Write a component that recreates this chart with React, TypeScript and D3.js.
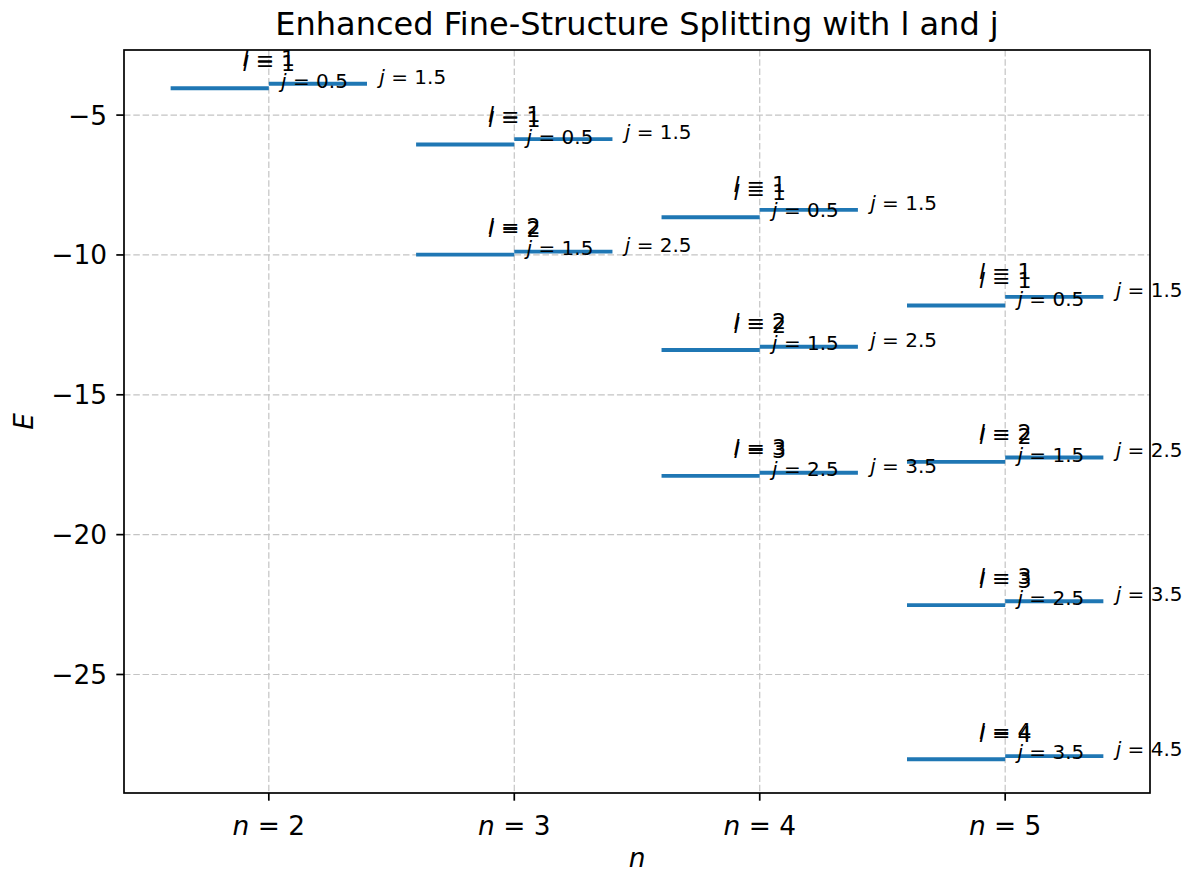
import React from 'react';
import * as d3 from 'd3';

// Data
const levelN = [2, 3, 3, 4, 4, 4, 5, 5, 5, 5];
const levelL = [1, 1, 2, 1, 2, 3, 1, 2, 3, 4];
const energyJMinus = [-4.04, -6.05, -9.99, -8.65, -13.4, -17.9, -11.81, -17.4, -22.52, -28.03]; // j = l - 1/2
const energyJPlus = [-3.88, -5.86, -9.88, -8.39, -13.28, -17.79, -11.5, -17.24, -22.38, -27.92]; // j = l + 1/2
const xTicks = [2, 3, 4, 5];
const xTickLabels = ['2', '3', '4', '5'];
const yTicks = [-5, -10, -15, -20, -25];
const yTickLabels = ['\u22125', '\u221210', '\u221215', '\u221220', '\u221225'];
const titleText = 'Enhanced Fine-Structure Splitting with l and j';

const W = 1190;
const H = 872;
const plot = { left: 124, right: 1150, top: 50, bottom: 793 };
const FONT = "'DejaVu Sans', sans-serif";
const BLUE = '#1f77b4';

export default function App() {
  const xMin = d3.min(levelN)! - 0.4;
  const xMax = d3.max(levelN)! + 0.4;
  const xPad = (xMax - xMin) * 0.05;
  const x = d3.scaleLinear().domain([xMin - xPad, xMax + xPad]).range([plot.left, plot.right]);

  const allE = [...energyJMinus, ...energyJPlus];
  const eMin = d3.min(allE)!;
  const eMax = d3.max(allE)!;
  const ePad = (eMax - eMin) * 0.05;
  const y = d3.scaleLinear().domain([eMin - ePad, eMax + ePad]).range([plot.bottom, plot.top]);

  const gridColor = '#c4c4c4';
  const dash = '6.5,2.8';

  const levels = levelN.map((n, i) => ({
    n,
    l: levelL[i],
    e1: energyJMinus[i],
    e2: energyJPlus[i],
  }));

  return (
    <svg width={W} height={H} style={{ position: 'absolute', left: 0, top: 0, background: '#fff' }} fontFamily={FONT}>
      <rect x={0} y={0} width={W} height={H} fill="#fff" />
      {/* grid */}
      <g>
        {xTicks.map((t) => (
          <line key={'gx' + t} x1={x(t)} x2={x(t)} y1={plot.top} y2={plot.bottom} stroke={gridColor} strokeWidth={1.2} strokeDasharray={dash} />
        ))}
        {yTicks.map((t) => (
          <line key={'gy' + t} x1={plot.left} x2={plot.right} y1={y(t)} y2={y(t)} stroke={gridColor} strokeWidth={1.2} strokeDasharray={dash} />
        ))}
      </g>
      {/* level lines */}
      <g>
        {levels.map((d, i) => (
          <g key={'lv' + i}>
            <line x1={x(d.n - 0.4)} x2={x(d.n)} y1={y(d.e1)} y2={y(d.e1)} stroke={BLUE} strokeWidth={3.9} />
            <line x1={x(d.n)} x2={x(d.n + 0.4)} y1={y(d.e2)} y2={y(d.e2)} stroke={BLUE} strokeWidth={3.9} />
          </g>
        ))}
      </g>
      {/* labels */}
      <g fill="#000">
        {levels.map((d, i) => (
          <g key={'lb' + i}>
            {[d.e1, d.e2].map((e, k) => (
              <text key={'l' + k} x={x(d.n)} y={y(e) - 17.5} fontSize={22} textAnchor="middle">
                <tspan fontStyle="italic">l</tspan>
                <tspan>{' = ' + d.l}</tspan>
              </text>
            ))}
            <text x={x(d.n + 0.05)} y={y(d.e1)} fontSize={20}>
              <tspan fontStyle="italic">j</tspan>
              <tspan>{' = ' + (d.l - 0.5).toFixed(1)}</tspan>
            </text>
            <text x={x(d.n + 0.45)} y={y(d.e2)} fontSize={20}>
              <tspan fontStyle="italic">j</tspan>
              <tspan>{' = ' + (d.l + 0.5).toFixed(1)}</tspan>
            </text>
          </g>
        ))}
      </g>
      {/* spines */}
      <rect x={plot.left} y={plot.top} width={plot.right - plot.left} height={plot.bottom - plot.top} fill="none" stroke="#000" strokeWidth={1.7} />
      {/* x ticks */}
      <g>
        {xTicks.map((t, i) => (
          <g key={'xt' + t}>
            <line x1={x(t)} x2={x(t)} y1={plot.bottom} y2={plot.bottom + 7.7} stroke="#000" strokeWidth={1.7} />
            <text x={x(t)} y={835} fontSize={26.4} textAnchor="middle">
              <tspan fontStyle="italic">n</tspan>
              <tspan>{' = ' + xTickLabels[i]}</tspan>
            </text>
          </g>
        ))}
      </g>
      {/* y ticks */}
      <g>
        {yTicks.map((t, i) => (
          <g key={'yt' + t}>
            <line x1={plot.left - 7.7} x2={plot.left} y1={y(t)} y2={y(t)} stroke="#000" strokeWidth={1.7} />
            <text x={plot.left - 17} y={y(t)} dy="0.36em" fontSize={26.4} textAnchor="end">
              {yTickLabels[i]}
            </text>
          </g>
        ))}
      </g>
      {/* axis labels */}
      <text x={(plot.left + plot.right) / 2} y={867} fontSize={26.4} fontStyle="italic" textAnchor="middle">n</text>
      <text transform={`translate(33, ${(plot.top + plot.bottom) / 2}) rotate(-90)`} fontSize={26.4} fontStyle="italic" textAnchor="middle">E</text>
      {/* title */}
      <text x={(plot.left + plot.right) / 2} y={35} fontSize={32} textAnchor="middle">{titleText}</text>
    </svg>
  );
}
